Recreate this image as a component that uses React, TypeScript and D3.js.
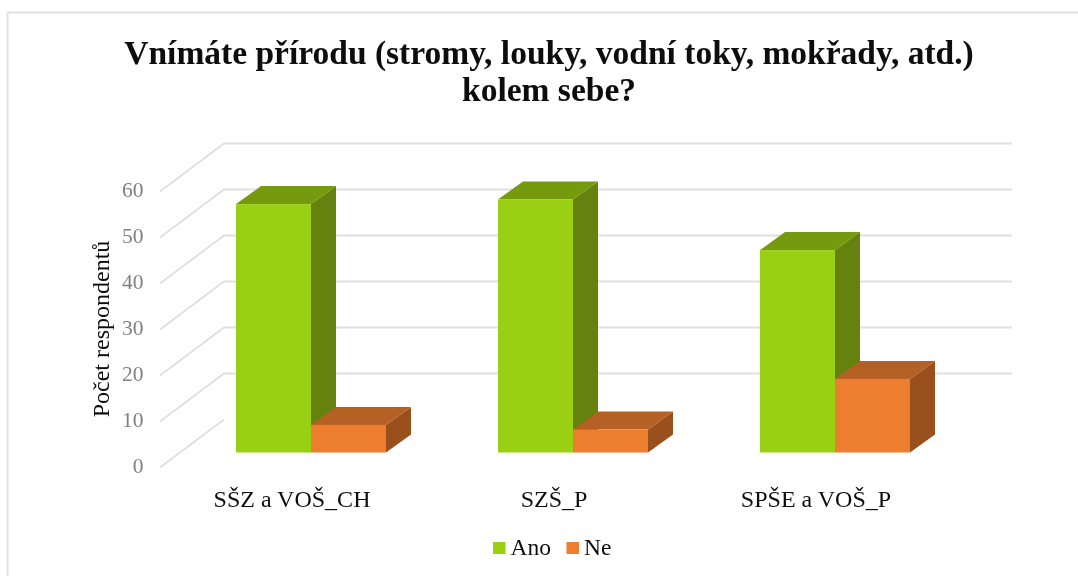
import React from "react";
import * as d3 from "d3";

const categories = ["SŠZ a VOŠ_CH", "SZŠ_P", "SPŠE a VOŠ_P"];
const series = ["Ano", "Ne"];
const ano = [54, 55, 44];
const ne = [6, 5, 16];
const ticks = [0, 10, 20, 30, 40, 50, 60];
const titleLines = ["Vnímáte přírodu (stromy, louky, vodní toky, mokřady, atd.)", "kolem sebe?"];
const axisTitle = "Počet respondentů";
const faces = [
  { front: "#9ad014", top: "#769a0e", side: "#64820d" },
  { front: "#ee7e2f", top: "#b56024", side: "#9a501d" },
];

const W = 1078, H = 576;
const FONT = "'Liberation Serif', serif";
const depthX = 64, depthY = 48;
const barDx = 25, barDy = 18;
const floorX = 20, floorY = 15;
const barW = 75;

export default function App() {
  const y = d3.scaleLinear().domain([0, 60]).range([467.5, 191.5]);
  const x = d3.scaleBand<string>().domain(categories).range([160, 946]);
  const values = [ano, ne];
  return (
    <svg width={W} height={H} viewBox={`0 0 ${W} ${H}`} style={{ position: "absolute", left: 0, top: 0, background: "#fff" }}>
      <defs>
        <filter id="soft" x="-5%" y="-5%" width="110%" height="110%">
          <feGaussianBlur stdDeviation={0.45} />
        </filter>
      </defs>
      <path d={`M${W},12.5H7.5V${H}`} fill="none" stroke="#e2e2e2" strokeWidth={2} />
      <text textAnchor="middle" fontFamily={FONT} fontWeight="bold" fontSize={33.5} fill="#0a0a0a" filter="url(#soft)">
        {titleLines.map((l, i) => <tspan key={i} x={549} y={64 + i * 37}>{l}</tspan>)}
      </text>
      {ticks.map(t => (
        <g key={t}>
          <path
            d={t === 0
              ? `M${160},${y(t)}L${160 + depthX},${y(t) - depthY}`
              : `M${160},${y(t)}L${160 + depthX},${y(t) - depthY}H${1012}`}
            fill="none" stroke="#dfdfdf" strokeWidth={1.8} />
          <text x={143.5} y={y(t) + 5} textAnchor="end" fontFamily={FONT} fontSize={21.5} fill="#808080" filter="url(#soft)">{t}</text>
        </g>
      ))}
      <text transform="translate(109,329) rotate(-90)" textAnchor="middle" fontFamily={FONT} fontSize={24} fill="#111" filter="url(#soft)">{axisTitle}</text>
      {categories.map((c, i) => {
        const cx = x(c)! + x.bandwidth() / 2 + floorX;
        return (
          <g key={c}>
            {series.map((s, k) => {
              const v = values[k][i];
              const bx = cx - barW + k * barW;
              const y0 = y(0) - floorY;
              const top = y0 - (y(0) - y(v));
              const f = faces[k];
              return (
                <g key={s}>
                  <path d={`M${bx + barW},${top}l${barDx},${-barDy}V${y0 - barDy}l${-barDx},${barDy}Z`} fill={f.side} />
                  <path d={`M${bx},${top}l${barDx},${-barDy}h${barW}l${-barDx},${barDy}Z`} fill={f.top} />
                  <rect x={bx} y={top} width={barW} height={y0 - top} fill={f.front} />
                </g>
              );
            })}
            <text x={x(c)! + x.bandwidth() / 2 + 1} y={507} textAnchor="middle" fontFamily={FONT} fontSize={24} fill="#111" filter="url(#soft)">{c}</text>
          </g>
        );
      })}
      {series.map((s, k) => {
        const lx = [493, 566.5][k];
        return (
          <g key={s}>
            <rect x={lx} y={542} width={12.5} height={12} fill={faces[k].front} />
            <text x={lx + 17.5} y={555} fontFamily={FONT} fontSize={23.5} fill="#111" filter="url(#soft)">{s}</text>
          </g>
        );
      })}
    </svg>
  );
}
